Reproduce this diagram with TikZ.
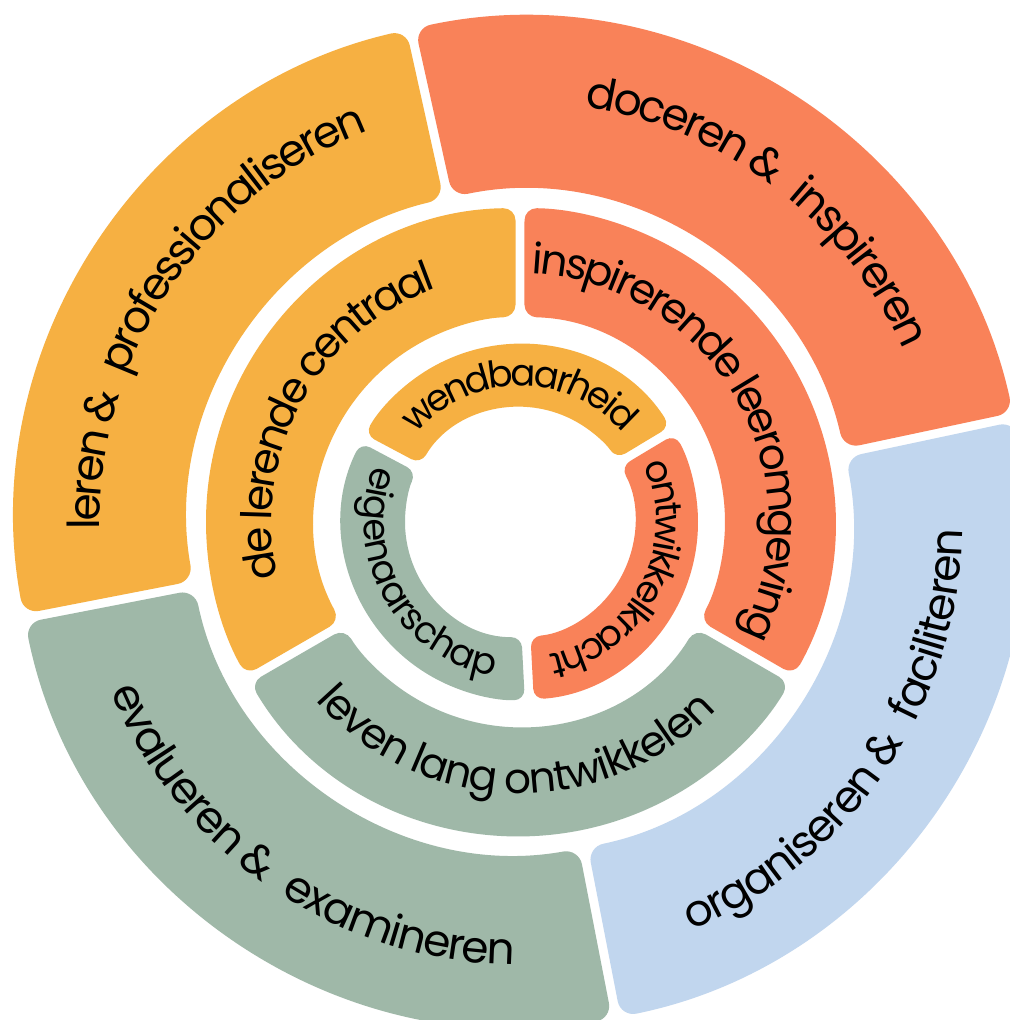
\documentclass[tikz,border=0pt]{standalone}
\usepackage{fontspec}
\setmainfont{Poppins}
\usetikzlibrary{calc,decorations.text}

\definecolor{geel}{HTML}{F6B042}
\definecolor{oranje}{HTML}{F98259}
\definecolor{groen}{HTML}{9FB8A8}
\definecolor{blauw}{HTML}{C1D6EE}

\newcommand{\halfgap}{4.5}
% ring piece: r in, r out, from, to, colour, corner
\newcommand{\ringseg}[6]{%
  \pgfmathsetmacro{\ai}{#3+\halfgap/#1*57.3}%
  \pgfmathsetmacro{\bi}{#4-\halfgap/#1*57.3}%
  \pgfmathsetmacro{\ao}{#3+\halfgap/#2*57.3}%
  \pgfmathsetmacro{\bo}{#4-\halfgap/#2*57.3}%
  \fill[#5, rounded corners=#6] ($(ctr)+(\ao:#2)$) arc[start angle=\ao, end angle=\bo, radius=#2]
    -- ($(ctr)+(\bi:#1)$) arc[start angle=\bi, end angle=\ai, radius=#1] -- cycle;
}
% text on a ring: radius, mid angle, size, text
\newcommand{\cwtext}[4]{%
  \path[decorate, decoration={text along path, text align=center, raise=-0.27*#3pt,
      text={|\fontsize{#3}{#3}\selectfont\kern-0.05em|#4}}]
    ($(ctr)+(#2+85:#1)$) arc[start angle=#2+85, end angle=#2-85, radius=#1];
}
\newcommand{\ccwtext}[4]{%
  \path[decorate, decoration={text along path, text align=center, raise=-0.27*#3pt,
      text={|\fontsize{#3}{#3}\selectfont\kern-0.05em|#4}}]
    ($(ctr)+(#2-85:#1)$) arc[start angle=#2-85, end angle=#2+85, radius=#1];
}

\begin{document}
\begin{tikzpicture}[x=0.1mm,y=0.1mm]
    \clip (0,0) rectangle (1010,1020);
    \fill[white] (0,0) rectangle (1010,1020);
    \coordinate (ctr) at (520,498);
    % outer ring
    \foreach \a/\b/\col in {12/102.5/oranje, 102.5/191/geel, 191/281/groen, 281/372/blauw}
        \ringseg{332}{505}{\a}{\b}{\col}{4.5pt};
    % middle ring
    \foreach \a/\b/\col in {-30/90/oranje, 90/210/geel, 210/330/groen}
        \ringseg{205}{314}{\a}{\b}{\col}{3.5pt};
    % inner ring
    \foreach \a/\b/\col in {31/152/geel, 152/273/groen, 273/391/oranje}
        \ringseg{115}{178}{\a}{\b}{\col}{3pt};

    \cwtext{432}{52.5}{12.5}{doceren {\&\hspace{.3em}} inspireren}
    \cwtext{432}{146}{12.5}{leren {\&\hspace{.3em}} professionaliseren}
    \ccwtext{431}{236}{12.5}{evalueren {\&\hspace{.3em}} examineren}
    \ccwtext{431}{326}{12.5}{organiseren {\&\hspace{.3em}} faciliteren}

    \cwtext{260}{151}{12}{de lerende centraal}
    \cwtext{260}{30}{12}{inspirerende leeromgeving}
    \ccwtext{260}{269}{12}{leven lang ontwikkelen}

    \cwtext{146}{90}{10.5}{wendbaarheid}
    \ccwtext{146}{210}{10.5}{eigenaarschap}
    \cwtext{146}{333}{10.5}{ontwikkelkracht}
\end{tikzpicture}
\end{document}
